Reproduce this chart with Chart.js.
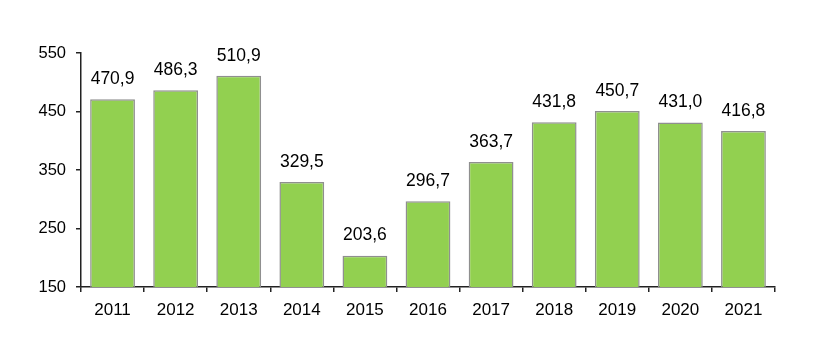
<!DOCTYPE html>
<html>
<head>
<meta charset="utf-8">
<script src="https://cdn.jsdelivr.net/npm/chart.js@4"></script>
<style>
body{margin:0;background:#fff;}
</style>
</head>
<body>
<canvas id="chart" width="819" height="356"></canvas>
<script>
const years = ["2011","2012","2013","2014","2015","2016","2017","2018","2019","2020","2021"];
const values = [470.9,486.3,510.9,329.5,203.6,296.7,363.7,431.8,450.7,431.0,416.8];
const yTicks = [150,250,350,450,550];

const FONT = "Liberation Sans, Arial, sans-serif";

/* value labels above bars */
const valueLabels = {
id:"valueLabels",
afterDatasetsDraw(chart){
const ctx = chart.ctx;
const meta = chart.getDatasetMeta(0);
ctx.save();
ctx.font = "17.5px " + FONT;
ctx.fillStyle = "#000";
ctx.textAlign = "center";
ctx.textBaseline = "middle";
meta.data.forEach((bar,i)=>{
ctx.fillText(values[i].toFixed(1).replace(".",","), bar.x, bar.y - 20);
});
ctx.restore();
}
};

new Chart(document.getElementById("chart"),{
type:"bar",
data:{
labels:years,
datasets:[{
data:values,
backgroundColor:"#92D050",
borderColor:"#8f8f8f",
borderWidth:1.5,
categoryPercentage:1,
barPercentage:0.71
}]
},
options:{
responsive:false,
animation:false,
layout:{padding:{top:53,right:44,left:0,bottom:0}},
plugins:{legend:{display:false},tooltip:{enabled:false}},
scales:{
x:{
afterFit(s){ s.height = 69; },
grid:{drawOnChartArea:false,tickLength:5,color:"#222",lineWidth:1.5,offset:true},
border:{color:"#222",width:1.5},
ticks:{color:"#000",font:{family:FONT,size:17},padding:8,maxRotation:0}
},
y:{
min:150,max:550,
afterFit(s){ s.width = 81; },
afterBuildTicks(s){ s.ticks = yTicks.map(v=>({value:v})); },
grid:{drawOnChartArea:false,tickLength:5,color:"#222",lineWidth:1.5},
border:{color:"#222",width:1.5},
ticks:{color:"#000",font:{family:FONT,size:16.5},padding:10}
}
}
},
plugins:[valueLabels]
});
</script>
</body>
</html>
